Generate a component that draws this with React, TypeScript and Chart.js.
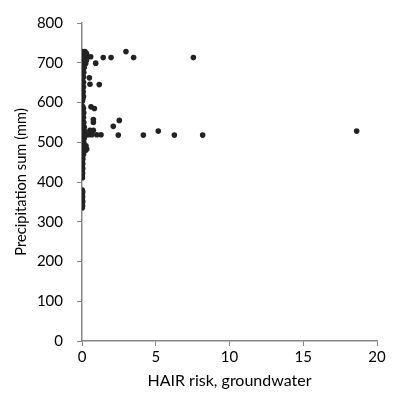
import React, { useEffect, useRef } from "react";
import { Chart, registerables } from "chart.js";

Chart.register(...registerables);

// HAIR risk (x) and precipitation sum (y), paired by index
const riskValues: number[] = [
  // outliers
  7.55, 1.44, 1.97, 2.98, 3.5, 0.93, 0.59, 0.5, 0.54, 1.17,
  0.61, 0.84, 0.77, 0.77, 2.53, 2.12, 0.43, 0.66, 1.0, 1.29,
  2.46, 4.16, 5.17, 6.26, 8.18, 18.62, 0.54, 0.77, 0.27, 0.32, 0.2,
  // dense cluster near zero
  0.05, 0.2, 0.3, 0.1, 0.35, 0.2, 0.05, 0.3, 0.1, 0.25,
  0.05, 0.15, 0.05, 0.12, 0.04, 0.1, 0.03, 0.1, 0.04, 0.1,
  0.03, 0.08, 0.04, 0.1, 0.05, 0.02,
  0.05, 0.1, 0.03, 0.12, 0.05, 0.1, 0.03, 0.12, 0.05, 0.15,
  0.05, 0.2, 0.1, 0.25, 0.05, 0.15, 0.05, 0.12, 0.05, 0.2,
  0.1, 0.25, 0.05, 0.1, 0.03, 0.06, 0.02, 0.05, 0.02, 0.05,
  0.02, 0.04, 0.02, 0.03,
  0.02, 0.05, 0.02, 0.04, 0.02, 0.05, 0.02, 0.04, 0.02,
];

const precipValues: number[] = [
  713, 713, 713, 728, 713, 699, 715, 662, 646, 645,
  589, 585, 557, 550, 555, 540, 519, 519, 519, 519,
  518, 518, 528, 518, 518, 528, 530, 530, 491, 483, 487,
  728, 728, 724, 720, 716, 713, 710, 706, 702, 698,
  693, 688, 682, 676, 670, 664, 657, 651, 645, 639,
  633, 627, 621, 615, 608, 603,
  590, 585, 580, 574, 568, 562, 556, 550, 544, 538,
  532, 527, 522, 518, 514, 510, 505, 500, 495, 490,
  485, 480, 476, 470, 464, 458, 452, 446, 440, 434,
  428, 422, 416, 411,
  380, 375, 369, 363, 357, 351, 345, 340, 335,
];

const xTickValues = [0, 5, 10, 15, 20];
const yTickValues = [0, 100, 200, 300, 400, 500, 600, 700, 800];

const xTitle = "HAIR risk, groundwater";
const yTitle = "Precipitation sum (mm)";

export default function App() {
  const ref = useRef<HTMLCanvasElement | null>(null);

  useEffect(() => {
    if (!ref.current) return;
    const family = "Lato, 'Open Sans', sans-serif";
    const tickFont = { family, size: 15 };
    const axisColor = "#868686";
    const chart = new Chart(ref.current, {
      type: "scatter",
      data: {
        datasets: [
          {
            data: riskValues.map((x, i) => ({ x, y: precipValues[i] })),
            backgroundColor: "#222222",
            borderColor: "#222222",
            pointRadius: 2.8,
            pointBorderWidth: 0,
          },
        ],
      },
      options: {
        animation: false,
        responsive: false,
        devicePixelRatio: 1,
        layout: { padding: { left: 0, right: 19, top: 14, bottom: 0 } },
        plugins: { legend: { display: false }, tooltip: { enabled: false } },
        scales: {
          x: {
            type: "linear",
            min: 0,
            max: 20,
            afterBuildTicks: (s: any) => {
              s.ticks = xTickValues.map((v) => ({ value: v }));
            },
            afterFit: (s: any) => {
              s.height = 65;
            },
            ticks: { color: "#000", font: tickFont, padding: 2 },
            grid: {
              display: true,
              drawOnChartArea: false,
              drawTicks: true,
              tickLength: 5,
              color: axisColor,
            },
            border: { display: true, color: axisColor, width: 1.5 },
            title: {
              display: true,
              text: xTitle,
              color: "#000",
              font: { family, size: 16 },
              padding: { top: 0, bottom: 16 },
            },
          },
          y: {
            type: "linear",
            min: 0,
            max: 800,
            afterBuildTicks: (s: any) => {
              s.ticks = yTickValues.map((v) => ({ value: v }));
            },
            afterFit: (s: any) => {
              s.width = 82;
            },
            ticks: { color: "#000", font: tickFont, padding: 14 },
            grid: {
              display: true,
              drawOnChartArea: false,
              drawTicks: true,
              tickLength: 5,
              color: axisColor,
            },
            border: { display: true, color: axisColor, width: 1.5 },
            title: {
              display: true,
              text: yTitle,
              color: "#000",
              font: { family, size: 14.7 },
              padding: { top: 12, bottom: 0 },
            },
          },
        },
      },
    } as any);
    return () => chart.destroy();
  }, []);

  return (
    <div style={{ position: "fixed", left: 0, top: 0, width: 396, height: 406, background: "#fff" }}>
      <canvas ref={ref} width={396} height={406} style={{ width: 396, height: 406 }} />
    </div>
  );
}
